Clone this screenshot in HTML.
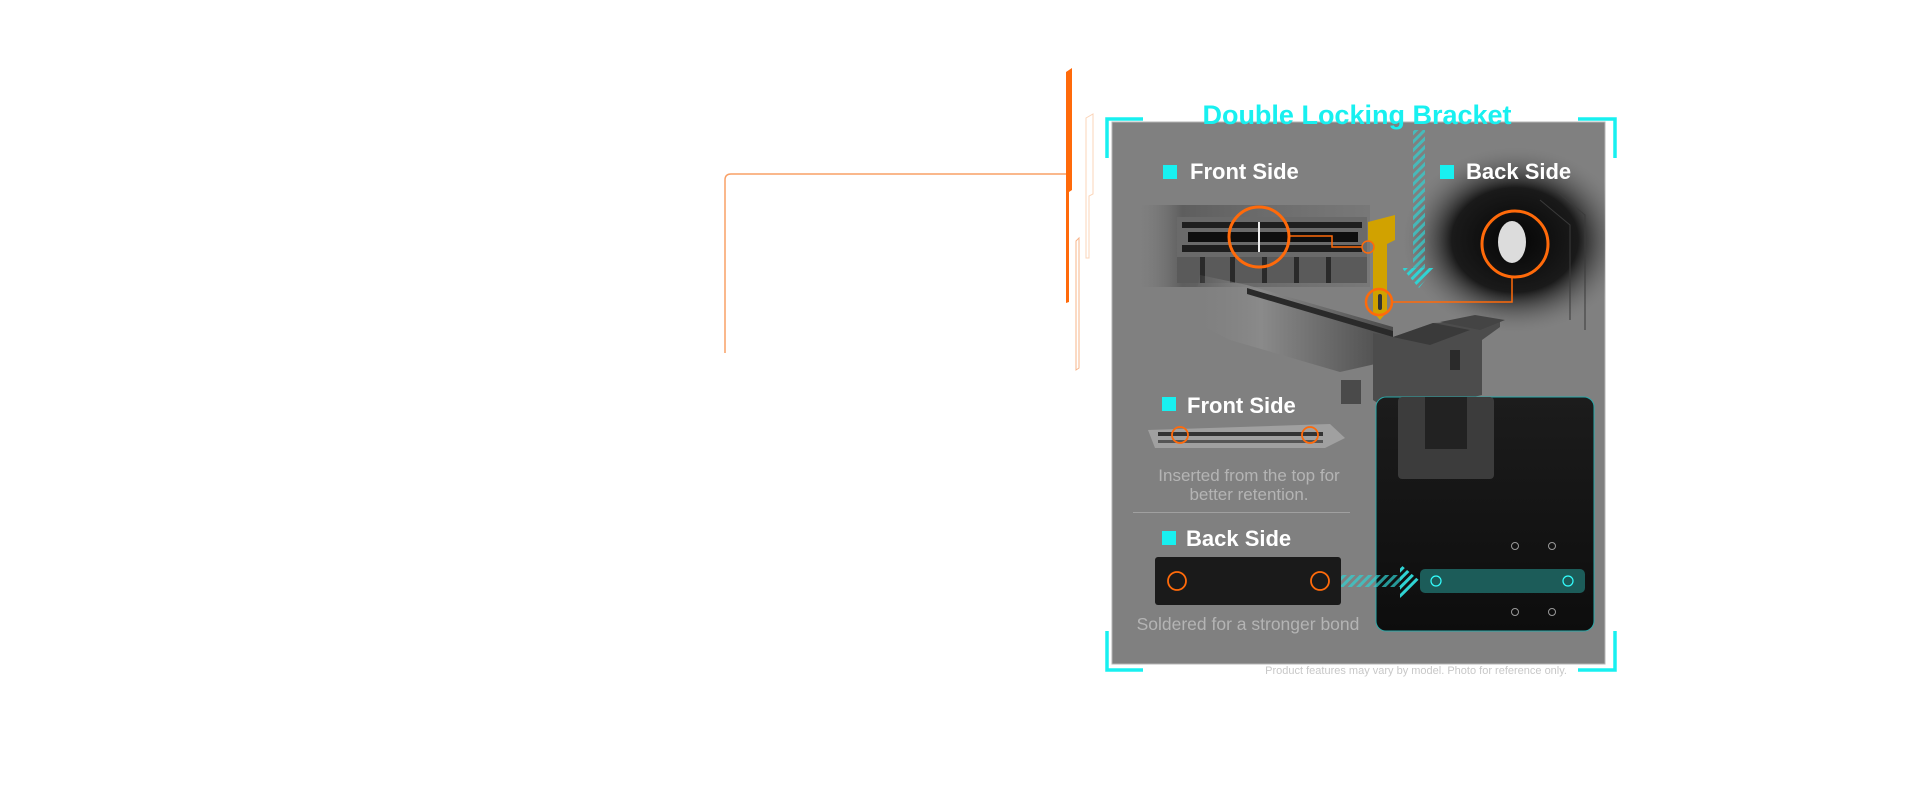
<!DOCTYPE html>
<html><head><meta charset="utf-8"><style>
html,body{margin:0;padding:0;background:#fff;width:1920px;height:800px;overflow:hidden}
svg{position:absolute;left:0;top:0}
text{font-family:"Liberation Sans",Arial,sans-serif}
</style></head><body>
<svg width="1920" height="800" viewBox="0 0 1920 800" xmlns="http://www.w3.org/2000/svg">
<defs>
<pattern id="hatch" width="6" height="6" patternUnits="userSpaceOnUse" patternTransform="rotate(45)">
<rect width="3" height="6" fill="#2fd3d3"/></pattern>
<radialGradient id="dark" cx="0.5" cy="0.5" r="0.5"><stop offset="0" stop-color="#050505"/><stop offset="0.55" stop-color="#1a1a1a"/><stop offset="1" stop-color="#808080" stop-opacity="0"/></radialGradient>
<linearGradient id="slot" x1="0" x2="1"><stop offset="0" stop-color="#808080" stop-opacity="0"/><stop offset="0.2" stop-color="#5e5e5e"/><stop offset="1" stop-color="#707070" stop-opacity="0.5"/></linearGradient>
<linearGradient id="big" x1="0" y1="0" x2="1" y2="0"><stop offset="0" stop-color="#808080" stop-opacity="0"/><stop offset="0.35" stop-color="#8a8a8a"/><stop offset="1" stop-color="#4a4a4a"/></linearGradient>
<linearGradient id="mb" x1="0" y1="0" x2="0" y2="1"><stop offset="0" stop-color="#1c1c1c"/><stop offset="1" stop-color="#0d0d0d"/></linearGradient>
<clipPath id="pc"><rect x="1112" y="122" width="493" height="542"/></clipPath>
</defs>
<!-- orange lines -->
<path d="M725 353 V180 Q725 174 731 174 H1066" fill="none" stroke="#f9a066" stroke-width="1.5"/>
<polygon points="1066,72 1072,68 1072,190 1069,192 1069,302 1066,303" fill="#ff6a0a"/>
<polygon points="1086,118 1093,114 1093,194 1089,196 1089,258 1086,258" fill="none" stroke="#fbd4b8" stroke-width="1"/>
<polygon points="1076,241 1079,238 1079,368 1076,370" fill="none" stroke="#f7b48a" stroke-width="1"/>
<!-- panel -->
<rect x="1112" y="122" width="493" height="542" fill="#808080" stroke="#b4b4b4" stroke-width="1"/>
<g clip-path="url(#pc)">
<ellipse cx="1515" cy="240" rx="115" ry="95" fill="url(#dark)"/>
<path d="M1540 200 L1570 225 V320 M1555 190 L1585 215 V330" stroke="#3a3a3a" fill="none"/>
</g>
<!-- top slot -->
<rect x="1135" y="205" width="235" height="82" fill="url(#slot)"/>
<rect x="1177" y="217" width="190" height="40" fill="#6a6a6a"/>
<rect x="1182" y="222" width="180" height="6" fill="#1e1e1e"/>
<rect x="1188" y="232" width="170" height="10" fill="#0e0e0e"/>
<rect x="1182" y="245" width="180" height="7" fill="#1e1e1e"/>
<rect x="1177" y="257" width="190" height="26" fill="#5a5a5a"/>
<g fill="#2a2a2a"><rect x="1200" y="257" width="5" height="26"/><rect x="1230" y="257" width="5" height="26"/><rect x="1262" y="257" width="5" height="26"/><rect x="1294" y="257" width="5" height="26"/><rect x="1326" y="257" width="5" height="26"/></g>
<!-- big diagonal slot -->
<polygon points="1200,275 1247,285 1393,327 1393,360 1340,372 1230,340 1190,320" fill="url(#big)"/>
<polygon points="1247,288 1393,331 1393,337 1247,294" fill="#2a2a2a"/>
<polygon points="1373,333 1393,337 1433,323 1500,320 1500,327 1482,340 1482,395 1440,405 1400,418 1373,400" fill="#4c4c4c"/>
<polygon points="1393,337 1433,323 1470,330 1430,345" fill="#3a3a3a"/>
<polygon points="1440,322 1475,315 1505,320 1480,330" fill="#444"/>
<rect x="1341" y="380" width="20" height="24" fill="#4a4a4a"/>
<rect x="1450" y="350" width="10" height="20" fill="#2a2a2a"/>
<!-- yellow bracket -->
<polygon points="1368,222 1395,215 1395,240 1387,244 1387,312 1380,320 1373,312 1373,244 1368,240" fill="#d1a200"/>
<rect x="1378" y="294" width="4" height="16" fill="#333" rx="2"/>
<!-- orange callouts -->
<circle cx="1259" cy="237" r="30" fill="none" stroke="#ff6a0a" stroke-width="3"/>
<rect x="1258" y="222" width="2" height="30" fill="#eee"/>
<path d="M1289 236 H1332 V247 H1362" fill="none" stroke="#ff6a0a" stroke-width="1.5"/>
<circle cx="1368" cy="247" r="6" fill="none" stroke="#ff6a0a" stroke-width="1.5"/>
<circle cx="1379" cy="302" r="13" fill="none" stroke="#ff6a0a" stroke-width="2.5"/>
<path d="M1392 302 H1512 V277" fill="none" stroke="#ff6a0a" stroke-width="1.5"/>
<ellipse cx="1512" cy="242" rx="14" ry="21" fill="#dcdcdc"/>
<circle cx="1515" cy="244" r="33" fill="none" stroke="#ff6a0a" stroke-width="3"/>
<!-- vertical cyan arrow -->
<rect x="1413" y="130" width="12" height="138" fill="url(#hatch)" opacity="0.7"/>
<polygon points="1402,268 1435,268 1419,288" fill="url(#hatch)"/>
<!-- labels -->
<text x="1357" y="124" text-anchor="middle" font-size="27" font-weight="bold" fill="#18f0f0">Double Locking Bracket</text>
<rect x="1163" y="165" width="14" height="14" fill="#18f0f0"/>
<text x="1190" y="179" font-size="22" font-weight="bold" fill="#fff">Front Side</text>
<rect x="1440" y="165" width="14" height="14" fill="#18f0f0"/>
<text x="1466" y="179" font-size="22" font-weight="bold" fill="#fff">Back Side</text>
<rect x="1162" y="397" width="14" height="14" fill="#18f0f0"/>
<text x="1187" y="413" font-size="22" font-weight="bold" fill="#fff">Front Side</text>
<!-- small front slot -->
<polygon points="1148,430 1330,424 1345,438 1325,448 1155,448" fill="#a0a0a0"/>
<rect x="1158" y="432" width="165" height="4" fill="#333"/>
<rect x="1158" y="440" width="165" height="3" fill="#555"/>
<circle cx="1180" cy="435" r="8" fill="none" stroke="#ff6a0a" stroke-width="1.8"/>
<circle cx="1310" cy="435" r="8" fill="none" stroke="#ff6a0a" stroke-width="1.8"/>
<text x="1249" y="481" text-anchor="middle" font-size="17" fill="#b4b4b4">Inserted from the top for</text>
<text x="1249" y="500" text-anchor="middle" font-size="17" fill="#b4b4b4">better retention.</text>
<rect x="1133" y="512" width="217" height="1" fill="#a0a0a0"/>
<rect x="1162" y="531" width="14" height="14" fill="#18f0f0"/>
<text x="1186" y="546" font-size="22" font-weight="bold" fill="#fff">Back Side</text>
<rect x="1155" y="557" width="186" height="48" rx="3" fill="#1a1a1a"/>
<circle cx="1177" cy="581" r="9" fill="none" stroke="#ff6a0a" stroke-width="1.8"/>
<circle cx="1320" cy="581" r="9" fill="none" stroke="#ff6a0a" stroke-width="1.8"/>
<text x="1248" y="630" text-anchor="middle" font-size="17.5" fill="#b4b4b4">Soldered for a stronger bond</text>
<!-- motherboard photo -->
<rect x="1376" y="397" width="218" height="234" rx="10" fill="url(#mb)" stroke="#2aa8a8" stroke-width="1"/>
<rect x="1398" y="397" width="96" height="82" rx="4" fill="#3c3c3c"/>
<rect x="1425" y="397" width="42" height="52" fill="#222"/>
<rect x="1420" y="569" width="165" height="24" rx="5" fill="#1f6a66" opacity="0.85"/>
<circle cx="1436" cy="581" r="5" fill="none" stroke="#3ff" stroke-width="1.2"/>
<circle cx="1568" cy="581" r="5" fill="none" stroke="#3ff" stroke-width="1.2"/>
<circle cx="1515" cy="546" r="3.5" fill="none" stroke="#999"/><circle cx="1552" cy="546" r="3.5" fill="none" stroke="#999"/>
<circle cx="1515" cy="612" r="3.5" fill="none" stroke="#999"/><circle cx="1552" cy="612" r="3.5" fill="none" stroke="#999"/>
<!-- horizontal cyan arrow -->
<rect x="1341" y="575" width="62" height="12" fill="url(#hatch)" opacity="0.7"/>
<polygon points="1400,564 1420,581 1400,598" fill="url(#hatch)"/>
<!-- cyan corners -->
<g stroke="#18f0f0" stroke-width="3.5" fill="none">
<path d="M1143 119 H1107 V158"/>
<path d="M1578 119 H1615 V158"/>
<path d="M1107 631 V670 H1143"/>
<path d="M1615 631 V670 H1578"/>
</g>
<text x="1567" y="674" text-anchor="end" font-size="11" fill="#c8c8c8">Product features may vary by model.   Photo for reference only.</text>
</svg>
</body></html>
